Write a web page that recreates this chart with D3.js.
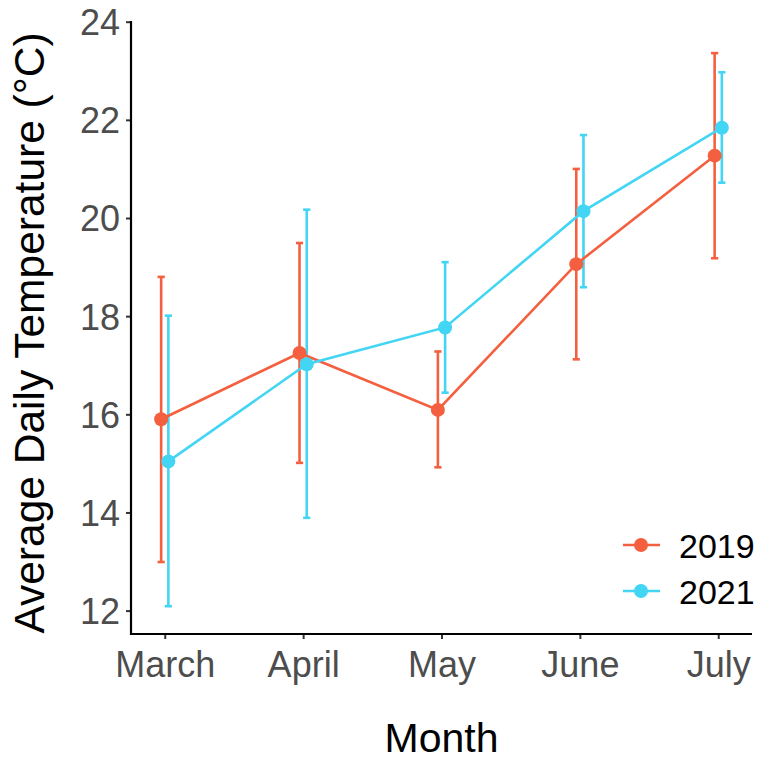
<!DOCTYPE html>
<html>
<head>
<meta charset="utf-8">
<script src="https://cdn.jsdelivr.net/npm/d3@7"></script>
<style>
  html, body { margin: 0; padding: 0; background: #fff; }
  svg { display: block; font-family: "Liberation Sans", Arial, Helvetica, sans-serif; }
</style>
</head>
<body>
<svg id="chart" width="766" height="761"></svg>
<script>
// Monthly mean temperature with error bars for two years
const months = ["March", "April", "May", "June", "July"];
const years = ["2019", "2021"];
const mean2019 = [15.90, 17.25, 16.09, 19.06, 21.27];
const low2019  = [12.99, 15.01, 14.92, 17.12, 19.18];
const high2019 = [18.80, 19.49, 17.28, 21.00, 23.36];
const mean2021 = [15.04, 17.02, 17.77, 20.14, 21.84];
const low2021  = [12.09, 13.89, 16.44, 18.59, 20.72];
const high2021 = [18.01, 20.17, 19.10, 21.69, 22.97];
const yTicks = [12, 14, 16, 18, 20, 22, 24];
const colors = ["#F4603F", "#42D5F4"];

const series = [
  { year: years[0], color: colors[0], mean: mean2019, low: low2019, high: high2019, dodge: -3.6 },
  { year: years[1], color: colors[1], mean: mean2021, low: low2021, high: high2021, dodge: 3.6 }
];

const panel = { left: 131, right: 752, top: 21, bottom: 634 };

const svg = d3.select("#chart");

const x = d3.scalePoint()
  .domain(months)
  .range([panel.left, panel.right])
  .padding(0.244);

const y = d3.scaleLinear()
  .domain([12, 24])
  .range([610.6, 21.7]);

// Axes
const yAxis = d3.axisLeft(y).tickValues(yTicks).tickSize(5).tickPadding(6).tickFormat(d3.format("d"));
const xAxis = d3.axisBottom(x).tickSize(5).tickPadding(5);

const gy = svg.append("g").attr("transform", `translate(${panel.left},0)`).call(yAxis);
gy.select(".domain").remove();
gy.selectAll(".tick line").attr("stroke", "#333").attr("stroke-width", 2);
gy.selectAll(".tick text").attr("fill", "#4D4D4D").style("font-size", "36px").attr("dy", "0.36em");

const gx = svg.append("g").attr("transform", `translate(0,${panel.bottom})`).call(xAxis);
gx.select(".domain").remove();
gx.selectAll(".tick line").attr("stroke", "#333").attr("stroke-width", 2);
gx.selectAll(".tick text").attr("fill", "#4D4D4D").style("font-size", "36px").attr("dy", "0.92em");

// Axis lines
svg.append("line")
  .attr("x1", panel.left).attr("x2", panel.left)
  .attr("y1", panel.top).attr("y2", panel.bottom + 1)
  .attr("stroke", "#000").attr("stroke-width", 2.2);
svg.append("line")
  .attr("x1", panel.left - 1).attr("x2", panel.right)
  .attr("y1", panel.bottom).attr("y2", panel.bottom)
  .attr("stroke", "#000").attr("stroke-width", 2.2);

// Error bars
const capHalf = 3.6;
series.forEach(s => {
  const g = svg.append("g").attr("stroke", s.color).attr("stroke-width", 2.6).attr("fill", "none");
  months.forEach((m, i) => {
    const cx = x(m) + s.dodge;
    g.append("line").attr("x1", cx).attr("x2", cx).attr("y1", y(s.low[i])).attr("y2", y(s.high[i]));
    g.append("line").attr("x1", cx - capHalf).attr("x2", cx + capHalf).attr("y1", y(s.low[i])).attr("y2", y(s.low[i]));
    g.append("line").attr("x1", cx - capHalf).attr("x2", cx + capHalf).attr("y1", y(s.high[i])).attr("y2", y(s.high[i]));
  });
});

// Lines
const line = d3.line().x(d => d[0]).y(d => d[1]);
series.forEach(s => {
  svg.append("path")
    .attr("d", line(months.map((m, i) => [x(m) + s.dodge, y(s.mean[i])])))
    .attr("fill", "none").attr("stroke", s.color).attr("stroke-width", 2.6);
});

// Points
series.forEach(s => {
  svg.append("g").selectAll("circle")
    .data(months)
    .join("circle")
    .attr("cx", (m) => x(m) + s.dodge)
    .attr("cy", (m, i) => y(s.mean[i]))
    .attr("r", 7)
    .attr("fill", s.color);
});

// Axis titles
svg.append("text")
  .attr("x", (panel.left + panel.right) / 2)
  .attr("y", 752)
  .attr("text-anchor", "middle")
  .style("font-size", "41px")
  .attr("fill", "#000")
  .text("Month");

svg.append("text")
  .attr("transform", "translate(43.5,333) rotate(-90)")
  .attr("text-anchor", "middle")
  .style("font-size", "42.5px")
  .attr("fill", "#000")
  .text("Average Daily Temperature (°C)");

// Legend
const legend = svg.append("g");
series.forEach((s, i) => {
  const ly = 545 + i * 46;
  legend.append("line")
    .attr("x1", 623).attr("x2", 660).attr("y1", ly).attr("y2", ly)
    .attr("stroke", s.color).attr("stroke-width", 2.6);
  legend.append("circle").attr("cx", 641).attr("cy", ly).attr("r", 7).attr("fill", s.color);
  legend.append("text")
    .attr("x", 679).attr("y", ly + 12.5)
    .style("font-size", "34px")
    .attr("fill", "#000")
    .text(s.year);
});
</script>
</body>
</html>
